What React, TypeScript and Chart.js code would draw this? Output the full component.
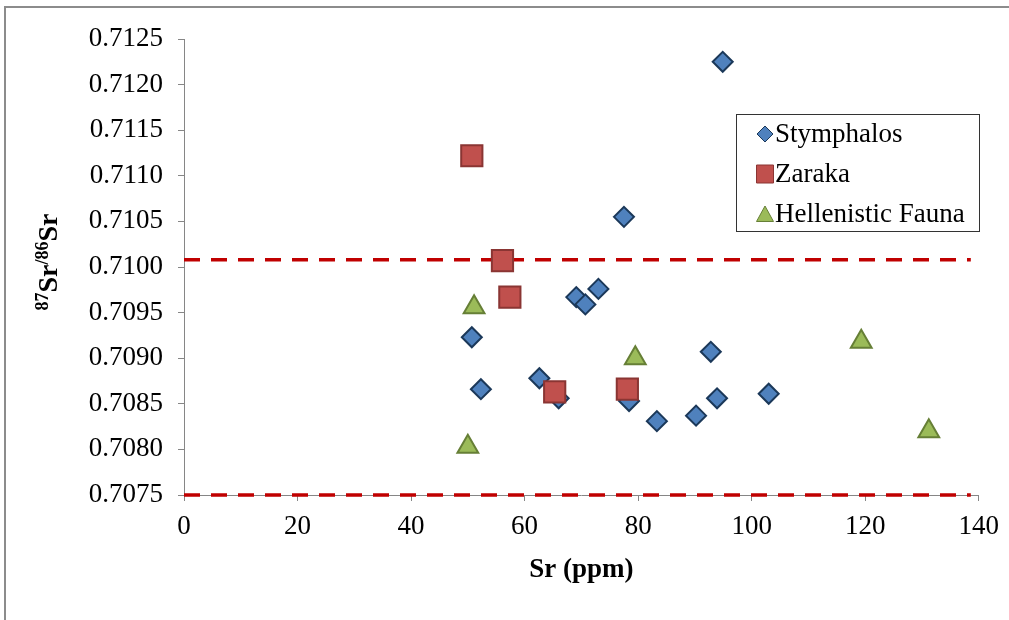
import React, { useEffect, useRef } from "react";
import { Chart, registerables } from "chart.js";

Chart.register(...registerables);

const seriesNames = ["Stymphalos", "Zaraka", "Hellenistic Fauna"];

const stymphalosSr = [94.9, 77.5, 69.1, 70.7, 73.0, 50.7, 52.3, 62.6, 66.0, 78.4, 83.3, 90.2, 92.8, 93.9, 103.0];
const stymphalosRatio = [0.71225, 0.71055, 0.70967, 0.70959, 0.70976, 0.70923, 0.70866, 0.70878, 0.70856, 0.70853, 0.70831, 0.70837, 0.70907, 0.70856, 0.70861];

const zarakaSr = [50.7, 56.1, 57.4, 65.3, 78.1];
const zarakaRatio = [0.71122, 0.71007, 0.70967, 0.70863, 0.70866];

const faunaSr = [51.1, 50.0, 79.5, 119.3, 131.2];
const faunaRatio = [0.70956, 0.70803, 0.709, 0.70918, 0.7082];

const upperLimitX = [0, 138.6];
const upperLimitY = [0.71008, 0.71008];
const lowerLimitX = [0, 138.6];
const lowerLimitY = [0.7075, 0.7075];

const xTicks = [0, 20, 40, 60, 80, 100, 120, 140];
const yTicks = [0.7075, 0.708, 0.7085, 0.709, 0.7095, 0.71, 0.7105, 0.711, 0.7115, 0.712, 0.7125];

const xTitle = "Sr (ppm)";

const zip = (xs: number[], ys: number[]) => xs.map((x, i) => ({ x, y: ys[i] }));

const SERIF = "'Liberation Serif', 'Times New Roman', serif";

const colors = [
  { fill: "#4F81BD", stroke: "#1B3859", shape: "diamond" },
  { fill: "#C0504D", stroke: "#8A3533", shape: "square" },
  { fill: "#9BBB59", stroke: "#667F36", shape: "triangle" },
];

function drawMarker(ctx: CanvasRenderingContext2D, shape: string, x: number, y: number, fill: string, stroke: string) {
  ctx.save();
  ctx.beginPath();
  if (shape === "diamond") {
    const h = 8;
    ctx.moveTo(x, y - h);
    ctx.lineTo(x + h, y);
    ctx.lineTo(x, y + h);
    ctx.lineTo(x - h, y);
    ctx.closePath();
  } else if (shape === "square") {
    ctx.rect(x - 8.5, y - 9, 17, 18);
  } else {
    ctx.moveTo(x, y - 8);
    ctx.lineTo(x + 8.5, y + 7.5);
    ctx.lineTo(x - 8.5, y + 7.5);
    ctx.closePath();
  }
  ctx.fillStyle = fill;
  ctx.fill();
  ctx.lineWidth = 1;
  ctx.strokeStyle = stroke;
  ctx.stroke();
  ctx.restore();
}

const annotationPlugin = {
  id: "customText",
  afterDraw(chart: any) {
    const ctx: CanvasRenderingContext2D = chart.ctx;
    const area = chart.chartArea;
    ctx.save();
    // X title
    ctx.fillStyle = "#000";
    ctx.font = `bold 27px ${SERIF}`;
    ctx.textAlign = "center";
    ctx.textBaseline = "alphabetic";
    ctx.fillText(xTitle, (area.left + area.right) / 2, 577);

    // Y title with superscripts
    const pieces = [
      { t: "87", sup: true },
      { t: "Sr", sup: false },
      { t: "/86", sup: true },
      { t: "Sr", sup: false },
    ];
    const fontFor = (sup: boolean) => (sup ? `bold 18px ${SERIF}` : `bold 28px ${SERIF}`);
    let total = 0;
    const widths = pieces.map((p) => {
      ctx.font = fontFor(p.sup);
      const w = ctx.measureText(p.t).width;
      total += w;
      return w;
    });
    ctx.translate(57, (area.top + area.bottom) / 2 - 5);
    ctx.rotate(-Math.PI / 2);
    ctx.textAlign = "left";
    let cx = -total / 2;
    pieces.forEach((p, i) => {
      ctx.font = fontFor(p.sup);
      ctx.fillText(p.t, cx, p.sup ? -9 : 0);
      cx += widths[i];
    });
    ctx.restore();

    // Legend
    ctx.save();
    ctx.strokeStyle = "#333";
    ctx.lineWidth = 1;
    ctx.fillStyle = "#fff";
    ctx.fillRect(736.5, 114.5, 243, 117);
    ctx.strokeRect(736.5, 114.5, 243, 117);
    ctx.font = `27px ${SERIF}`;
    ctx.textAlign = "left";
    ctx.textBaseline = "middle";
    const ds = chart.data.datasets.filter((d: any) => !d.isLimit);
    ds.forEach((d: any, i: number) => {
      const y = 134 + 40 * i;
      const c = colors[i];
      drawMarker(ctx, c.shape, 765, y, c.fill, c.stroke);
      ctx.fillStyle = "#000";
      ctx.fillText(d.label, 775, y + 1);
    });
    ctx.restore();
  },
};

export default function App() {
  const canvasRef = useRef<HTMLCanvasElement | null>(null);

  useEffect(() => {
    if (!canvasRef.current) return;
    const chart = new Chart(canvasRef.current, {
      type: "scatter",
      data: {
        datasets: [
          {
            label: seriesNames[0],
            data: zip(stymphalosSr, stymphalosRatio),
            pointStyle: "rectRot",
            pointRadius: 10,
            pointBackgroundColor: colors[0].fill,
            pointBorderColor: colors[0].stroke,
            pointBorderWidth: 2,
            order: 3,
            clip: false,
          },
          {
            label: seriesNames[1],
            data: zip(zarakaSr, zarakaRatio),
            pointStyle: "rect",
            pointRadius: 15,
            pointBackgroundColor: colors[1].fill,
            pointBorderColor: colors[1].stroke,
            pointBorderWidth: 2,
            order: 2,
            clip: false,
          },
          {
            label: seriesNames[2],
            data: zip(faunaSr, faunaRatio),
            pointStyle: "triangle",
            pointRadius: 12,
            pointBackgroundColor: colors[2].fill,
            pointBorderColor: colors[2].stroke,
            pointBorderWidth: 2,
            order: 1,
            clip: false,
          },
          {
            label: "upper",
            isLimit: true,
            data: zip(upperLimitX, upperLimitY),
            showLine: true,
            pointRadius: 0,
            borderColor: "#C00000",
            borderWidth: 3.5,
            borderDash: [16, 11],
            order: 10,
            clip: false,
          } as any,
          {
            label: "lower",
            isLimit: true,
            data: zip(lowerLimitX, lowerLimitY),
            showLine: true,
            pointRadius: 0,
            borderColor: "#C00000",
            borderWidth: 3.5,
            borderDash: [16, 11],
            order: 10,
            clip: false,
          } as any,
        ],
      },
      options: {
        responsive: false,
        animation: false,
        layout: { padding: { left: 0, right: 27, top: 39, bottom: 0 } },
        plugins: {
          legend: { display: false },
          tooltip: { enabled: false },
        },
        scales: {
          x: {
            type: "linear",
            min: xTicks[0],
            max: xTicks[xTicks.length - 1],
            afterBuildTicks: (scale: any) => {
              scale.ticks = xTicks.map((v) => ({ value: v }));
            },
            afterFit: (scale: any) => {
              scale.height = 125;
            },
            ticks: {
              color: "#000",
              font: { family: SERIF, size: 27 },
              padding: 10,
              maxRotation: 0,
              callback: (v: any) => String(v),
            },
            grid: { drawOnChartArea: false, drawTicks: true, tickLength: 6, color: "#868686" },
            border: { display: true, color: "#868686", width: 1 },
          },
          y: {
            type: "linear",
            min: yTicks[0],
            max: yTicks[yTicks.length - 1],
            afterBuildTicks: (scale: any) => {
              scale.ticks = yTicks.map((v) => ({ value: v }));
            },
            afterFit: (scale: any) => {
              scale.width = 184;
            },
            ticks: {
              color: "#000",
              font: { family: SERIF, size: 27 },
              padding: 15,
              callback: (v: any) => Number(v).toFixed(4),
            },
            grid: { drawOnChartArea: false, drawTicks: true, tickLength: 6, color: "#868686" },
            border: { display: true, color: "#868686", width: 1 },
          },
        },
      },
      plugins: [annotationPlugin],
    } as any);
    return () => chart.destroy();
  }, []);

  return (
    <div
      style={{
        position: "fixed",
        left: 0,
        top: 0,
        width: 1009,
        height: 620,
        overflow: "hidden",
        background: "#fff",
      }}
    >
      <canvas ref={canvasRef} width={1009} height={620} style={{ position: "absolute", left: 0, top: 0 }} />
      <div
        style={{
          position: "absolute",
          left: 4,
          top: 6,
          width: 1100,
          height: 700,
          borderLeft: "2px solid #8c8c8c",
          borderTop: "2px solid #8c8c8c",
          pointerEvents: "none",
        }}
      />
    </div>
  );
}
